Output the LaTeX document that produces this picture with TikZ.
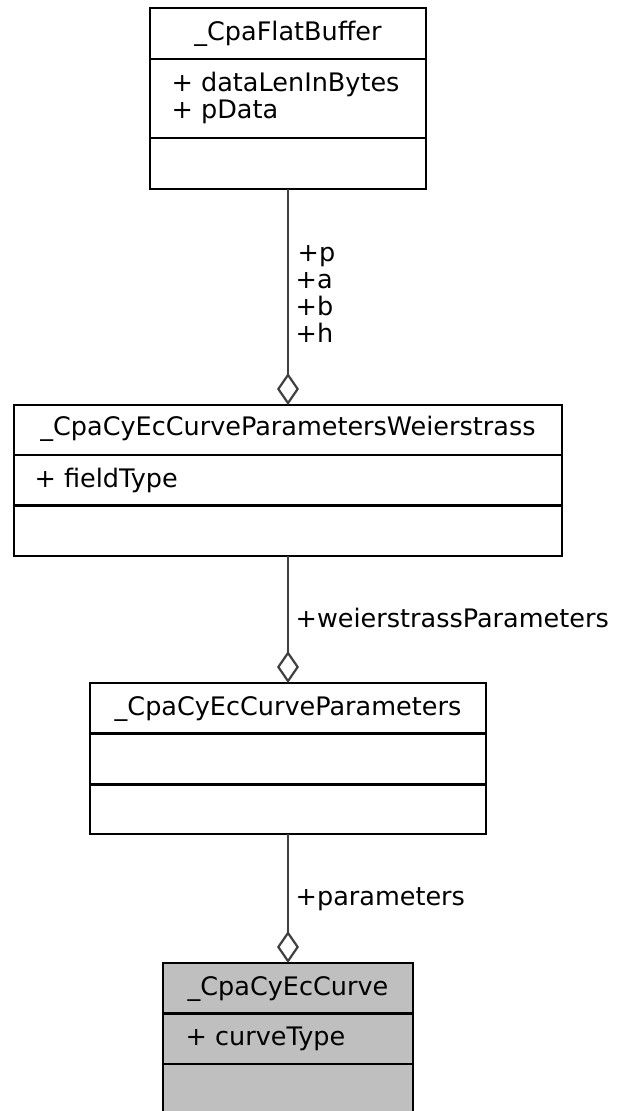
\documentclass[tikz,border=0pt]{standalone}
\usepackage{fontspec}
\setmainfont{DejaVu Sans}
\usetikzlibrary{arrows.meta}
\definecolor{conncol}{HTML}{404040}
\definecolor{boxgray}{HTML}{BFBFBF}
\begin{document}
\begin{tikzpicture}[x=1pt,y=-1pt,
  umlbox/.style={draw=black, line width=2.5pt, rectangle, inner sep=0pt, outer sep=0pt},
  divline/.style={draw=black, line width=2.5pt},
  boxtitle/.style={font=\fontsize{25.5}{27}\selectfont, inner sep=0pt, anchor=base},
  attr/.style={font=\fontsize{25.5}{27}\selectfont, inner sep=0pt, anchor=base west},
  elabel/.style={font=\fontsize{25.5}{27}\selectfont, inner sep=0pt, anchor=base west},
  conn/.style={draw=conncol, line width=2.2pt, -{Diamond[fill=white, length=32pt, width=22pt]}}
]
\useasboundingbox (0,0) rectangle (616,1111);

% Box 1: _CpaFlatBuffer
\node[umlbox, minimum width=276pt, minimum height=181pt] (fb) at (288,98.5) {};
\draw[divline] (150,59) -- (426,59);
\draw[divline] (150,138) -- (426,138);
\node[boxtitle] (fbt) at (288,40) {\_CpaFlatBuffer};
\node[attr] (fba1) at (171.5,91) {+ dataLenInBytes};
\node[attr] (fba2) at (171.5,118) {+ pData};

% Box 2: _CpaCyEcCurveParametersWeierstrass
\node[umlbox, minimum width=548pt, minimum height=151pt] (wei) at (288,480.5) {};
\draw[divline] (14,455) -- (562,455);
\draw[divline] (14,505.5) -- (562,505.5);
\node[boxtitle] (weit) at (288,435) {\_CpaCyEcCurveParametersWeierstrass};
\node[attr] (weia1) at (34.5,487) {+ fieldType};

% Box 3: _CpaCyEcCurveParameters
\node[umlbox, minimum width=396pt, minimum height=151pt] (par) at (288,758.5) {};
\draw[divline] (90,733.5) -- (486,733.5);
\draw[divline] (90,784.5) -- (486,784.5);
\node[boxtitle] (part) at (288,715) {\_CpaCyEcCurveParameters};

% Box 4: _CpaCyEcCurve
\node[umlbox, fill=boxgray, minimum width=250pt, minimum height=150pt] (cur) at (288,1038) {};
\draw[divline] (163,1013.5) -- (413,1013.5);
\draw[divline] (163,1064) -- (413,1064);
\node[boxtitle] (curt) at (288,995) {\_CpaCyEcCurve};
\node[attr] (cura1) at (185.5,1045) {+ curveType};

% Connectors
\draw[conn] (fb.south) -- (wei.north);
\draw[conn] (wei.south) -- (par.north);
\draw[conn] (par.south) -- (cur.north);

% Edge labels
\node[elabel] (lp) at (297.5,261) {+p};
\node[elabel] (la) at (295.5,288) {+a};
\node[elabel] (lb) at (295.5,315) {+b};
\node[elabel] (lh) at (295.5,342) {+h};
\node[elabel] (lw) at (295.5,627) {+weierstrassParameters};
\node[elabel] (lpar) at (295.5,905) {+parameters};
\end{tikzpicture}
\end{document}
